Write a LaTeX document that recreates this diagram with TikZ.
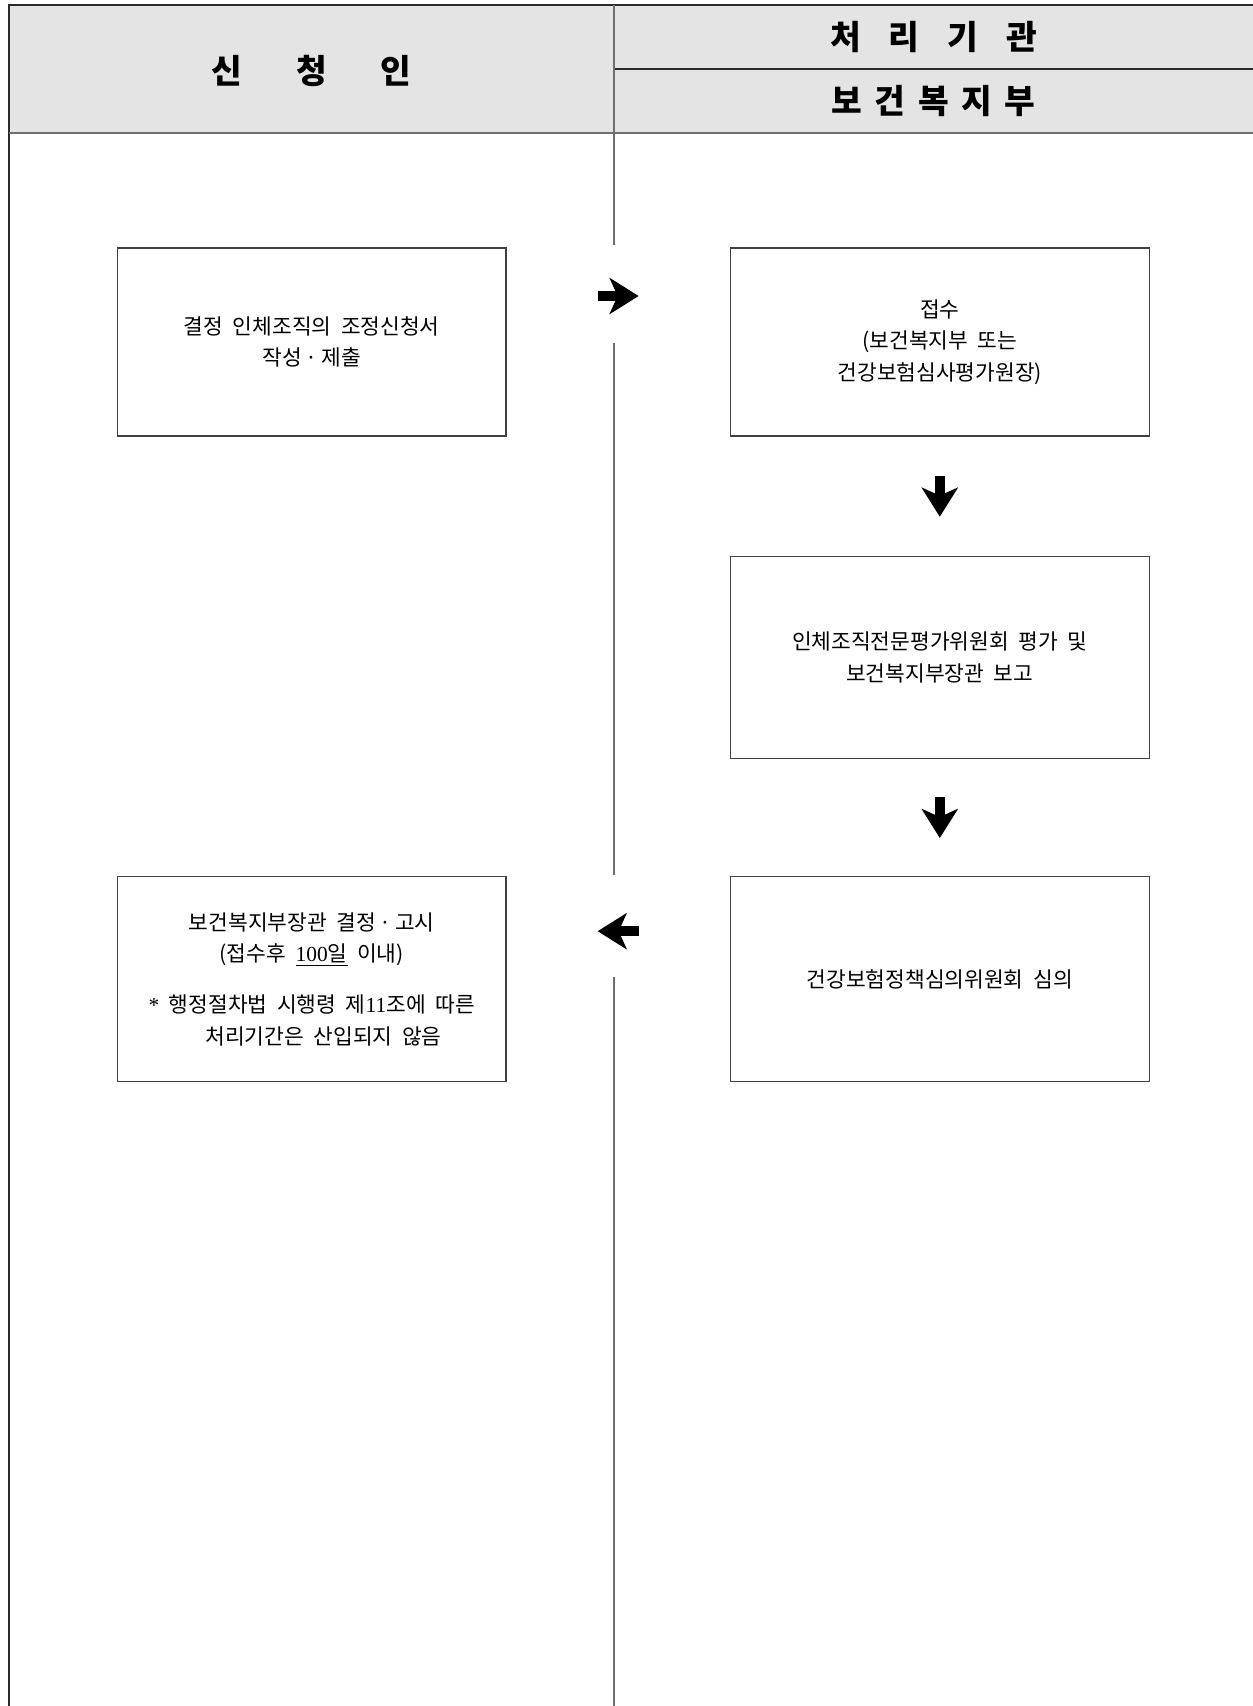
\documentclass[tikz,border=0pt]{standalone}
\usepackage{fontspec}
\setmainfont{Noto Sans CJK KR}
\newfontfamily\numfont{Liberation Serif}
\usepackage{tikz}
\usetikzlibrary{arrows.meta, positioning}
\definecolor{headgray}{HTML}{E4E4E4}
\definecolor{rulegray}{HTML}{6E6E6E}
\definecolor{edgegray}{HTML}{2A2A2A}
\tikzset{
  outerline/.style={line width=1.1pt, draw=edgegray},
  laneline/.style={line width=1.1pt, draw=rulegray},
  headtext/.style={font=\fontsize{19pt}{22pt}\selectfont\bfseries},
  stepbox/.style={
    rectangle, draw=black!75, line width=0.8pt,
    minimum width=7.77cm, align=center,
    font={\fontsize{12.2pt}{17.9pt}\selectfont\spaceskip=0.45em\relax},
  },
  agencybox/.style={stepbox, minimum width=8.38cm},
  bigarrow/.style={line width=0.19cm, draw=black,
    -{Stealth[length=0.58cm, width=0.72cm, inset=0.16cm]}},
  trim/.style={shorten <=#1, shorten >=#1},
}

\begin{document}
\begin{tikzpicture}[x=0.02cm, y=-0.02cm]

  \useasboundingbox (0,0) rectangle (1253,1706);

  % header band
  \fill[headgray] (9,5) rectangle (1253,133);
  \draw[outerline] (1253,5) -- (9,5) -- (9,1706);
  \draw[laneline] (9,133) -- (1253,133);
  \draw[outerline] (614,69) -- (1253,69);

  \node[headtext] (applicant) at (311.5,71) {신\hspace{1.08cm}청\hspace{1.08cm}인};
  \node[headtext] (agency) at (933.5,37) {처\hspace{0.56cm}리\hspace{0.56cm}기\hspace{0.56cm}관};
  \node[headtext] (ministry) at (933.5,101) {보\hspace{0.25cm}건\hspace{0.25cm}복\hspace{0.25cm}지\hspace{0.25cm}부};

  % lane divider (broken where the arrows cross)
  \draw[laneline] (614,5) -- (614,245);
  \draw[laneline] (614,343) -- (614,875);
  \draw[laneline] (614,977) -- (614,1706);

  \node[stepbox, minimum height=3.76cm] (apply) at (311.75,342)
    {결정 인체조직의 조정신청서\\작성\,·\,제출};
  \node[agencybox, minimum height=3.76cm, right=4.46cm of apply] (receive)
    {접수\\(보건복지부 또는\\건강보험심사평가원장)};
  \node[agencybox, minimum height=4.04cm, below=2.38cm of receive] (review)
    {인체조직전문평가위원회 평가 및\\보건복지부장관 보고};
  \node[agencybox, minimum height=4.1cm, below=2.34cm of review] (council)
    {건강보험정책심의위원회 심의};
  \node[stepbox, minimum height=4.1cm, left=4.46cm of council] (notice)
    {보건복지부장관 결정\,·\,고시\\(접수후 \underline{{\numfont 100}일} 이내)\\[11pt]
     {\numfont *} 행정절차법 시행령 제{\numfont 11}조에 따른\\\hspace*{1.1em}처리기간은 산입되지 않음};

  \draw[bigarrow, trim=1.82cm] ([yshift=0.92cm]apply.east) -- ([yshift=0.92cm]receive.west);
  \draw[bigarrow, trim=0.78cm] (receive) -- (review);
  \draw[bigarrow, trim=0.76cm] (review) -- (council);
  \draw[bigarrow, trim=1.82cm] ([yshift=0.96cm]council.west) -- ([yshift=0.96cm]notice.east);

\end{tikzpicture}
\end{document}
